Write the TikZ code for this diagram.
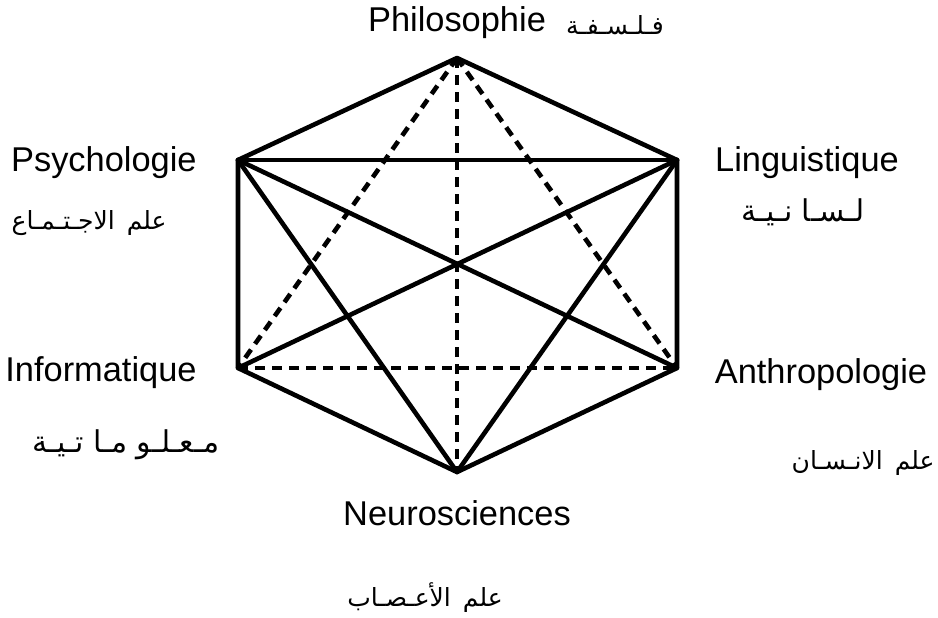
\documentclass[tikz,border=0pt]{standalone}
\usepackage{fontspec}
\setmainfont{Liberation Sans}
\newfontfamily\arabicfont[Script=Arabic]{DejaVu Sans}
\TeXXeTstate=1
\tikzset{
  edge/.style={line width=2.3pt,line join=round,line cap=round},
  dashededge/.style={line width=2.3pt,dash pattern=on 5pt off 3.5pt},
  lab/.style={font=\fontsize{17.2}{20}\selectfont,inner sep=0pt},
  arlab/.style={font=\arabicfont\fontsize{12.5}{15}\selectfont,inner sep=0pt},
  arbig/.style={font=\arabicfont\fontsize{15}{18}\selectfont,inner sep=0pt}
}

\begin{document}
\begin{tikzpicture}[x=0.5pt,y=-0.5pt]
  \useasboundingbox[fill=white] (0,0) rectangle (938,617);
  % vertices of the hexagon
  \coordinate (philo) at (457,58);
  \coordinate (ling) at (677,160);
  \coordinate (anthro) at (677,368);
  \coordinate (neuro) at (457,472);
  \coordinate (info) at (238,368);
  \coordinate (psych) at (238,160);
  % labels
  \node[lab] (philoT) at (457,23) {Philosophie};
  \node[arlab] (philoA) at (615,25) {\beginR فـلـسـفـة\endR};
  \node[lab,anchor=east] (psychT) at (197,163) {Psychologie};
  \node[arlab,anchor=east] (psychA) at (167,223) {\beginR علم\hspace{6pt}الاجـتـمـاع\endR};
  \node[lab] (lingT) at (807,163) {Linguistique};
  \node[arbig] (lingA) at (803,212) {\beginR لـسـا نـيـة\endR};
  \node[lab,anchor=east] (infoT) at (197,373) {Informatique};
  \node[arbig] (infoA) at (126,445) {\beginR مـعـلـو مـا تـيـة\endR};
  \node[lab] (anthroT) at (821,375) {Anthropologie};
  \node[arlab,anchor=east] (anthroA) at (935,463) {\beginR علم\hspace{6pt}الانـسـان\endR};
  \node[lab] (neuroT) at (457,513) {Neurosciences};
  \node[arlab] (neuroA) at (425,598) {\beginR علم\hspace{6pt}الأعـصـاب\endR};
  % solid lines
  \draw[edge] (philo) -- (ling) -- (anthro) -- (neuro) -- (info) -- (psych) -- cycle;
  \foreach \a/\b in {psych/ling,psych/anthro,psych/neuro,ling/info,ling/neuro}
    \draw[edge] (\a) -- (\b);
  % dashed lines
  \foreach \a/\b in {philo/info,philo/neuro,philo/anthro,info/anthro}
    \draw[dashededge] (\a) -- (\b);
\end{tikzpicture}
\end{document}
